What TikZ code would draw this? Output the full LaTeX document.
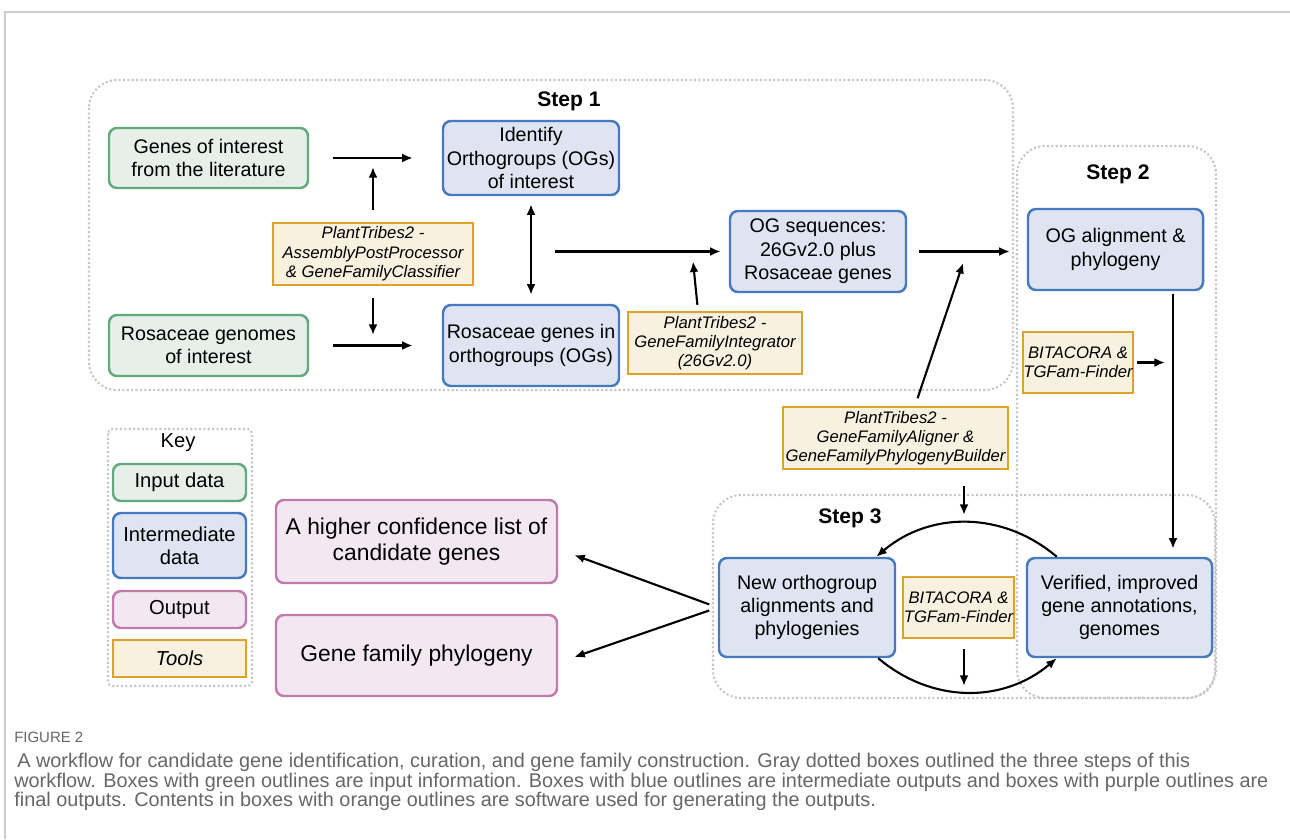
\documentclass[tikz,border=0pt]{standalone}
\usepackage{fontspec}
\setmainfont{Liberation Sans}
\usepackage{xcolor}
\usetikzlibrary{arrows.meta,calc,positioning}
\definecolor{inpfill}{RGB}{230,239,233}
\definecolor{inpdraw}{RGB}{98,170,124}
\definecolor{midfill}{RGB}{222,228,241}
\definecolor{middraw}{RGB}{70,121,190}
\definecolor{outfill}{RGB}{243,232,241}
\definecolor{outdraw}{RGB}{192,122,172}
\definecolor{toolfill}{RGB}{249,241,224}
\definecolor{tooldraw}{RGB}{222,162,42}
\colorlet{stepgray}{gray!45}
\colorlet{capgray}{black!60}
\newcommand{\pxu}{0.02cm}
\newcommand{\fsz}[2]{\fontsize{#1}{#2}\selectfont}

\begin{document}
\begin{tikzpicture}[x=0.02cm,y=-0.02cm,>={Latex[length=6pt,width=5pt]},
  sz/.style 2 args={minimum width=#1*\pxu,minimum height=#2*\pxu},
  basebox/.style={inner sep=0pt,align=center,line width=1.4pt},
  inbox/.style={basebox,rounded corners=4.5pt,draw=inpdraw,fill=inpfill,font=\fsz{11.2}{13.3}},
  midbox/.style={basebox,rounded corners=4.5pt,draw=middraw,fill=midfill,font=\fsz{11.2}{13.3}},
  outbox/.style={basebox,rounded corners=4.5pt,draw=outdraw,fill=outfill,font=\fsz{13}{15.2}},
  toolbox/.style={basebox,draw=tooldraw,fill=toolfill,font=\fsz{9.5}{11}\itshape},
  keyfont/.style={font=\fsz{11.5}{13.3}},
  steparea/.style={draw=stepgray,line width=1.2pt,dash pattern=on 1.2pt off 1.3pt,rounded corners=16pt},
  steplab/.style={font=\fsz{12}{14}\bfseries},
  captext/.style={anchor=base west,inner sep=0pt,text=capgray,font=\fsz{11.3}{12}},
  arr/.style={->,line width=1.2pt},
  gap/.style 2 args={shorten <=#1*\pxu,shorten >=#2*\pxu}]
\useasboundingbox (0,0) rectangle (1290,839);
% page frame
\draw[black!20,line width=0.8pt] (5,839) -- (5,12) -- (1290,12);
% the three steps and the key
\draw[steparea] (89,80) rectangle (1013,390);
\draw[steparea] (1017,146) rectangle (1216,698);
\draw[steparea] (713,495) rectangle (1215,698);
\draw[steparea,rounded corners=2.5pt] (108,429) rectangle (252,686);
\node[steplab] (step1) at (569,101) {Step 1};
\node[steplab] (step2) at (1118,174) {Step 2};
\node[steplab] (step3) at (850,518) {Step 3};

% step 1
\node[inbox,sz={199}{60}] (genes) at (208.5,158) {Genes of interest\\from the literature};
\node[inbox,sz={199}{61}] (genomes) at (208.5,345.5) {Rosaceae genomes\\of interest};
\node[toolbox,sz={200}{62}] (classify) at (373,254) {PlantTribes2 -\\AssemblyPostProcessor\\\& GeneFamilyClassifier};
\node[midbox,sz={176}{74}] (identify) at (531,158) {Identify\\Orthogroups (OGs)\\of interest};
\node[midbox,sz={176}{81}] (rosog) at (531,345.5) {Rosaceae genes in\\orthogroups (OGs)};
\node[midbox,sz={176}{81}] (ogseq) at (818,251.5) {OG sequences:\\26Gv2.0 plus\\Rosaceae genes};
\node[toolbox,sz={174}{62}] (integr) at (715,343) {PlantTribes2 -\\GeneFamilyIntegrator\\(26Gv2.0)};
% step 2
\node[midbox,sz={175}{81}] (ogaln) at (1115.5,249.5) {OG alignment \&\\phylogeny};
\node[toolbox,sz={110}{61}] (bitaA) at (1078,362.5) {BITACORA \&\\TGFam-Finder};
\node[toolbox,sz={225}{62}] (aligner) at (895.5,438) {PlantTribes2 -\\GeneFamilyAligner \&\\GeneFamilyPhylogenyBuilder};
% step 3 and outputs
\node[midbox,sz={176}{99}] (neworth) at (807,607.5) {New orthogroup\\alignments and\\phylogenies};
\node[toolbox,sz={111}{61}] (bitaB) at (958.5,607.5) {BITACORA \&\\TGFam-Finder};
\node[midbox,sz={185}{99}] (verified) at (1119.5,607.5) {Verified, improved\\gene annotations,\\genomes};
\node[outbox,sz={281}{83}] (hiconf) at (416.5,541.5) {A higher confidence list of\\candidate genes};
\node[outbox,sz={281}{81}] (famphy) at (416.5,655.5) {Gene family phylogeny};
% key
\node[keyfont] (keylab) at (178,443) {Key};
\node[inbox,keyfont,sz={133}{37}] (kin) at (179.5,482.5) {Input data};
\node[midbox,keyfont,sz={133}{65}] (kmid) at (179.5,545.5) {Intermediate\\data};
\node[outbox,keyfont,sz={133}{37}] (kout) at (179.5,609.5) {Output};
\node[toolbox,font=\fsz{11.5}{13.3}\itshape,sz={133}{37}] (ktool) at (179.5,658.5) {Tools};

% connectors
\coordinate (upj) at (373,158);
\coordinate (dnj) at (373,346);
\coordinate (ogj) at (555,251.5);
\coordinate (intj) at (692,251.5);
\coordinate (alnj) at (967,251.5);
\coordinate (vl) at ([xshift=57.5*\pxu]ogaln.south);
\coordinate (arctop) at (964,523);
\coordinate (arcbot) at (964,692);
\draw[arr,gap={24}{29}] (genes) -- (identify);
\draw[arr,gap={24}{29}] (genomes) -- (rosog);
\draw[arr,gap={12}{9}] (classify) -- (upj);
\draw[arr,gap={12}{11}] (classify) -- (dnj);
\draw[<->,line width=1.2pt,gap={8}{9}] (identify) -- (rosog);
\draw[arr,gap={0}{8}] (ogj) -- (ogseq);
\draw[arr,gap={6}{10}] ([xshift=-17*\pxu]integr.north) -- (intj);
\draw[arr,gap={12}{17}] (ogseq.east) -- (ogseq.east -| ogaln.west);
\draw[arr,gap={8}{12}] ([xshift=19.5*\pxu]aligner.north) -- (alnj);
\draw[arr,gap={3}{8}] (vl) -- (vl |- verified.north);
\draw[arr,gap={3}{8}] (bitaA.east) -- (bitaA.east -| vl);
\draw[arr,gap={16}{8}] (aligner.south -| arctop) -- (arctop);
\draw[arr,gap={10}{6}] (bitaB.south -| arcbot) -- (arcbot);
% loop between the two step 3 boxes
\draw[arr] ([xshift=31*\pxu]verified.north west) .. controls (1003,511) and (930,511) .. ([xshift=-20*\pxu]neworth.north east);
\draw[arr] ([xshift=-18*\pxu]neworth.south east) .. controls (932,703.5) and (1003,703.5) .. ([xshift=31*\pxu]verified.south west);
\draw[arr,gap={9}{0}] (neworth.west) -- ([xshift=16*\pxu,yshift=-13.5*\pxu]hiconf.east);
\draw[arr,gap={9}{0}] (neworth.west) -- ([xshift=16*\pxu,yshift=-1.5*\pxu]famphy.east);

% caption
\node[captext,font=\fsz{8.5}{10}] (figno) at (14,742) {FIGURE 2};
\node[captext] (cap1) at (17,767) {A workflow for candidate gene identification, curation, and gene family construction. Gray dotted boxes outlined the three steps of this};
\node[captext] (cap2) at (14,787) {workflow. Boxes with green outlines are input information. Boxes with blue outlines are intermediate outputs and boxes with purple outlines are};
\node[captext] (cap3) at (14,806) {final outputs. Contents in boxes with orange outlines are software used for generating the outputs.};
\end{tikzpicture}
\end{document}
